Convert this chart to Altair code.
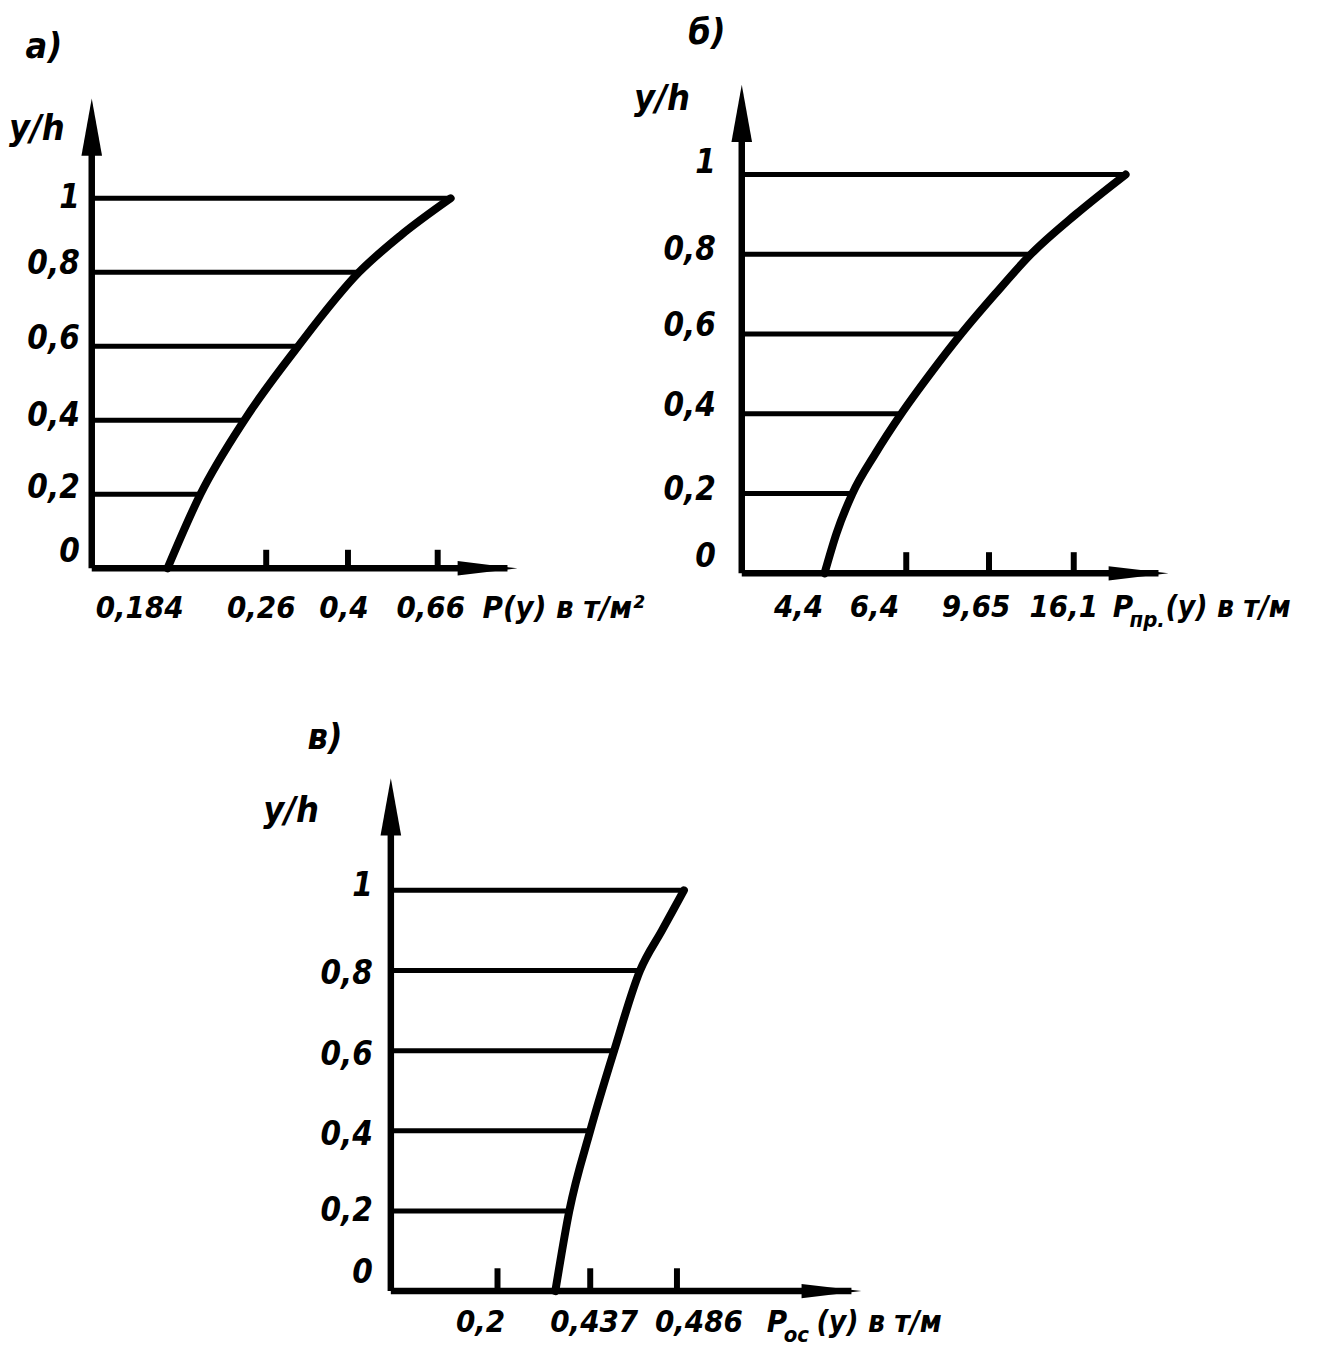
import altair as alt
import pandas as pd

FONT = "Liberation Sans Narrow, DejaVu Sans Condensed, Arial Narrow, Liberation Sans, sans-serif"

# ---------------- data ----------------
# common y/h levels
levels = [0.2, 0.4, 0.6, 0.8, 1.0]
ylab_text = ["0", "0,2", "0,4", "0,6", "0,8", "1"]

# panel а) : P(y), т/м²  (x in schematic axis units, 1 unit = 100 px of the drawing)
a_title = "а)"
a_curve_y = [0.0, 0.2, 0.4, 0.6, 0.8, 0.9, 1.0]
a_curve_x = [0.76, 1.09, 1.53, 2.07, 2.68, 3.10, 3.60]
a_ylab_y = [0.043, 0.216, 0.412, 0.62, 0.822, 1.0]
a_tick_x = [1.75, 2.57, 3.47]
a_xlab_text = ["0,184", "0,26", "0,4", "0,66"]
a_xlab_x = [0.48, 1.70, 2.53, 3.40]

# panel б) : Pпр(y), т/м
b_title = "б)"
b_curve_y = [0.0, 0.1, 0.2, 0.3, 0.4, 0.5, 0.6, 0.7, 0.8, 0.9, 1.0]
b_curve_x = [0.83, 0.95, 1.11, 1.34, 1.60, 1.89, 2.20, 2.54, 2.90, 3.35, 3.85]
b_ylab_y = [0.04, 0.21, 0.42, 0.62, 0.81, 1.03]
b_tick_x = [1.65, 2.48, 3.33]
b_xlab_text = ["4,4", "6,4", "9,65", "16,1"]
b_xlab_x = [0.57, 1.33, 2.35, 3.23]

# panel в) : Pос(y), т/м
c_title = "в)"
c_curve_y = [0.0, 0.2, 0.4, 0.6, 0.8, 0.9, 1.0]
c_curve_x = [1.65, 1.79, 2.00, 2.24, 2.50, 2.72, 2.94]
c_ylab_y = [0.045, 0.20, 0.39, 0.59, 0.79, 1.01]
c_tick_x = [1.07, 2.00, 2.87]
c_xlab_text = ["0,2", "0,437", "0,486"]
c_xlab_x = [0.90, 2.04, 3.09]

# ---------------- layout (not data) ----------------
panels = {
    "a": dict(w=642, h=672, xdom=[-0.80, 5.62], ydom=[-0.302, 1.509], ytop=1.27, xend=4.27,
              tick_h=0.05, ylab_x=-0.12, xlab_y=-0.11, yh=(-0.55, 1.186), title=(-0.48, 1.41),
              unit_x=3.92, main="P(y) в т/м²", sub=None, rest=None, sub_dx=0, rest_dx=0),
    "b": dict(w=668, h=672, xdom=[-0.90, 5.78], ydom=[-0.2675, 1.4125], ytop=1.225, xend=4.28,
              tick_h=0.053, ylab_x=-0.26, xlab_y=-0.0875, yh=(-0.80, 1.19), title=(-0.35, 1.355),
              unit_x=3.72, main="P", sub="пр.", rest="(y) в т/м", sub_dx=17, rest_dx=53),
    "c": dict(w=1310, h=665, xdom=[-3.80, 9.30], ydom=[-0.1294, 1.5249], ytop=1.28, xend=4.72,
              tick_h=0.057, ylab_x=-0.18, xlab_y=-0.08, yh=(-1.00, 1.197), title=(-0.66, 1.38),
              unit_x=3.77, main="P", sub="ос", rest="(y) в т/м", sub_dx=17, rest_dx=50),
}

BLACK = "#000000"


def make_panel(key, title, curve_x, curve_y, ylab_y, tick_x, xlab_text, xlab_x):
    c = panels[key]
    xs = alt.Scale(domain=c["xdom"], nice=False, zero=False)
    ys = alt.Scale(domain=c["ydom"], nice=False, zero=False)

    def X(f):
        return alt.X(f, type="quantitative", scale=xs, axis=None)

    def Y(f):
        return alt.Y(f, type="quantitative", scale=ys, axis=None)

    txt = dict(font=FONT, fontStyle="italic", fontWeight="bold", color=BLACK)

    curve_df = pd.DataFrame({"x": curve_x, "y": curve_y})
    lookup = dict(zip(curve_y, curve_x))
    hl = pd.DataFrame({"x0": [0.0] * len(levels), "x1": [lookup[v] for v in levels], "y": levels})

    axes_df = pd.DataFrame({"x": [0.0, 0.0], "x2": [0.0, c["xend"] - 0.1],
                            "y": [0.0, 0.0], "y2": [c["ytop"] - 0.1, 0.0]})
    yarrow = pd.DataFrame({"x": [0.0], "y": [c["ytop"]]})
    xarrow = pd.DataFrame({"x": [c["xend"]], "y": [0.0]})
    ticks = pd.DataFrame({"x": tick_x, "y": [0.0] * len(tick_x), "y2": [c["tick_h"]] * len(tick_x)})
    ylabs = pd.DataFrame({"x": [c["ylab_x"]] * len(ylab_y), "y": ylab_y, "t": ylab_text})
    xlabs = pd.DataFrame({"x": xlab_x, "y": [c["xlab_y"]] * len(xlab_x), "t": xlab_text})
    misc = pd.DataFrame({"x": [c["yh"][0], c["title"][0]], "y": [c["yh"][1], c["title"][1]],
                         "t": ["y/h", title]})
    unit = pd.DataFrame({"x": [c["unit_x"]], "y": [c["xlab_y"]]})

    layers = [
        alt.Chart(axes_df).mark_rule(color=BLACK, strokeWidth=6.5).encode(
            x=X("x"), x2="x2", y=Y("y"), y2="y2"),
        alt.Chart(yarrow).mark_point(shape="M0,0L0.36,2L-0.36,2Z", size=3300, filled=True,
                                      color=BLACK, opacity=1, strokeWidth=0).encode(x=X("x"), y=Y("y")),
        alt.Chart(xarrow).mark_point(shape="M0,0L-2,-0.24L-2,0.24Z", size=3600, filled=True,
                                      color=BLACK, opacity=1, strokeWidth=0).encode(x=X("x"), y=Y("y")),
        alt.Chart(ticks).mark_rule(color=BLACK, strokeWidth=6).encode(x=X("x"), y=Y("y"), y2="y2"),
        alt.Chart(hl).mark_rule(color=BLACK, strokeWidth=5).encode(x=X("x0"), x2="x1", y=Y("y")),
        alt.Chart(curve_df).mark_line(color=BLACK, strokeWidth=8, interpolate="monotone",
                                      strokeJoin="round", strokeCap="round").encode(
            x=X("x"), y=Y("y"), order="y:Q"),
        alt.Chart(ylabs).mark_text(align="right", baseline="middle", fontSize=33, **txt).encode(
            x=X("x"), y=Y("y"), text="t:N"),
        alt.Chart(xlabs).mark_text(align="center", baseline="middle", fontSize=31, **txt).encode(
            x=X("x"), y=Y("y"), text="t:N"),
        alt.Chart(misc).mark_text(align="center", baseline="middle", fontSize=36, **txt).encode(
            x=X("x"), y=Y("y"), text="t:N"),
        alt.Chart(unit).mark_text(align="left", baseline="middle", fontSize=31, text=c["main"], **txt).encode(
            x=X("x"), y=Y("y")),
    ]
    if c["sub"]:
        layers.append(alt.Chart(unit).mark_text(align="left", baseline="middle", fontSize=22, dx=c["sub_dx"],
                                                dy=12, text=c["sub"], **txt).encode(x=X("x"), y=Y("y")))
        layers.append(alt.Chart(unit).mark_text(align="left", baseline="middle", fontSize=30, dx=c["rest_dx"],
                                                text=c["rest"], **txt).encode(x=X("x"), y=Y("y")))
    return alt.layer(*layers).properties(width=c["w"], height=c["h"])


pa = make_panel("a", a_title, a_curve_x, a_curve_y, a_ylab_y, a_tick_x, a_xlab_text, a_xlab_x)
pb = make_panel("b", b_title, b_curve_x, b_curve_y, b_ylab_y, b_tick_x, b_xlab_text, b_xlab_x)
pc = make_panel("c", c_title, c_curve_x, c_curve_y, c_ylab_y, c_tick_x, c_xlab_text, c_xlab_x)

top = alt.hconcat(pa, pb, spacing=0, bounds="flush")
chart = alt.vconcat(top, pc, spacing=0).properties(padding=0, background="white").configure_view(
    strokeWidth=0, stroke="transparent")

chart.save("out.html", embed_options={"renderer": "svg", "actions": False})
